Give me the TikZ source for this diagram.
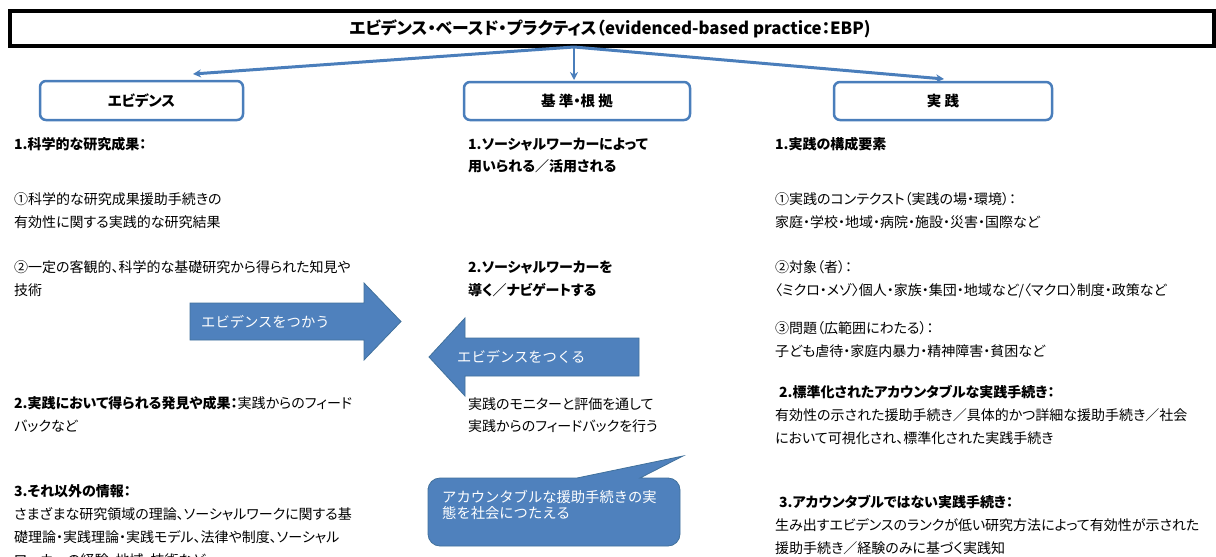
\documentclass[tikz,border=0pt]{standalone}
\usepackage{fontspec}
\setmainfont{Noto Sans CJK JP}[RawFeature=+palt]
\newfontfamily\plainjp{Noto Sans CJK JP}
\usetikzlibrary{arrows.meta}
\definecolor{lineblue}{HTML}{4A7EBB}
\definecolor{fillblue}{HTML}{4F81BD}
\definecolor{edgeblue}{HTML}{41719C}
\tikzset{
  txt/.style={anchor=base west, inner sep=0pt, font=\fontsize{14}{18}\selectfont},
  hd/.style={txt, font=\fontsize{14}{18}\selectfont\bfseries},
  wtxt/.style={anchor=base west, inner sep=0pt, text=white, font=\fontsize{14.3}{18}\selectfont\plainjp},
  catbox/.style={draw=lineblue, line width=2.5pt, rounded corners=6pt, fill=white},
  conn/.style={draw=lineblue, line width=3pt, -{Stealth[length=8pt,width=8pt]}},
  blockarrow/.style={fill=fillblue, draw=edgeblue, line width=0.8pt}
}
\begin{document}
\begin{tikzpicture}[x=1pt,y=-1pt]
\clip (0,0) rectangle (1216,557);
\fill[white] (0,0) rectangle (1216,557);

% title
\draw[line width=4pt] (10,11) rectangle (1213.5,46);
\node[inner sep=0pt, font=\fontsize{16.8}{20}\selectfont\bfseries] (title) at (610,28.5) {エビデンス・ベースド・プラクティス（evidenced-based practice：EBP)};
\coordinate (src) at (574,47);

% category boxes
\draw[catbox] (40,81) rectangle (243,120);
\node[inner sep=0pt, font=\fontsize{14.5}{18}\selectfont\bfseries] (evi) at (141.5,100.5) {エビデンス};
\draw[catbox] (464,82) rectangle (690,120);
\node[inner sep=0pt, font=\fontsize{14.5}{18}\selectfont\bfseries] (kij) at (577,101) {基 準・根 拠};
\draw[catbox] (834,82) rectangle (1052,120);
\node[inner sep=0pt, font=\fontsize{14.5}{18}\selectfont\bfseries] (jis) at (943,101) {実 践};
\coordinate (evitop) at (193,74);
\coordinate (kijtop) at (574,80);
\coordinate (jistop) at (944,79);

% connectors
\draw[conn] (src) -- (evitop);
\draw[conn, line width=2pt] (src) -- (kijtop);
\draw[conn] (src) -- (jistop);

% left column
\node[hd] (l1) at (14,149) {1.科学的な研究成果：};
\node[txt] (l2) at (14,204) {①科学的な研究成果援助手続きの};
\node[txt] (l3) at (14,227) {有効性に関する実践的な研究結果};
\node[txt] (l4) at (14,272) {②一定の客観的、科学的な基礎研究から得られた知見や};
\node[txt] (l5) at (14,295) {技術};
\node[txt] (l6) at (14,408) {\bfseries 2.実践において得られる発見や成果：\mdseries 実践からのフィード};
\node[txt] (l7) at (14,431) {バックなど};
\node[hd] (l8) at (14,496) {3.それ以外の情報：};
\node[txt] (l9) at (14,519) {さまざまな研究領域の理論、ソーシャルワークに関する基};
\node[txt] (l10) at (14,542) {礎理論・実践理論・実践モデル、法律や制度、ソーシャル};
\node[txt] (l11) at (14,565) {ワーカーの経験・地域・技術など};

% middle column
\node[hd] (m1) at (468,149) {1.ソーシャルワーカーによって};
\node[hd] (m2) at (468,171) {用いられる／活用される};
\node[hd] (m3) at (468,272) {2.ソーシャルワーカーを};
\node[hd] (m4) at (468,295) {導く／ナビゲートする};
\node[txt] (m5) at (468,409) {実践のモニターと評価を通して};
\node[txt] (m6) at (468,431) {実践からのフィードバックを行う};

% right column
\node[hd] (r1) at (775,149) {1.実践の構成要素};
\node[txt] (r2) at (775,204) {①実践のコンテクスト（実践の場・環境）：};
\node[txt] (r3) at (775,227) {家庭・学校・地域・病院・施設・災害・国際など};
\node[txt] (r4) at (775,272) {②対象（者）：};
\node[txt] (r5) at (775,295) {〈ミクロ・メゾ〉個人・家族・集団・地域など/〈マクロ〉制度・政策など};
\node[txt] (r6) at (775,333) {③問題（広範囲にわたる）：};
\node[txt] (r7) at (775,356) {子ども虐待・家庭内暴力・精神障害・貧困など};
\node[hd] (r8) at (779,397) {2.標準化されたアカウンタブルな実践手続き：};
\node[txt] (r9) at (775,420) {有効性の示された援助手続き／具体的かつ詳細な援助手続き／社会};
\node[txt] (r10) at (775,443) {において可視化され、標準化された実践手続き};
\node[hd] (r11) at (779,507) {3.アカウンタブルではない実践手続き：};
\node[txt] (r12) at (775,530) {生み出すエビデンスのランクが低い研究方法によって有効性が示された};
\node[txt] (r13) at (775,553) {援助手続き／経験のみに基づく実践知};

% block arrows
\draw[blockarrow] (190,303) -- (364,303) -- (364,283) -- (401,321.5) -- (364,360) -- (364,340) -- (190,340) -- cycle;
\node[wtxt] (use) at (201,327) {エビデンスをつかう};
\draw[blockarrow] (429,357) -- (465,318) -- (465,338) -- (639,338) -- (639,376) -- (465,376) -- (465,396) -- cycle;
\node[wtxt] (make) at (457,362) {エビデンスをつくる};

% callout
\draw[blockarrow] (428,488) [rounded corners=12pt] -- (428,478) [sharp corners] -- (577,478) -- (683,456) -- (640,478) [rounded corners=12pt] -- (680,478) -- (680,546) -- (428,546) -- (428,488);
\node[wtxt] (c1) at (442,502) {アカウンタブルな援助手続きの実};
\node[wtxt] (c2) at (442,518.5) {態を社会につたえる};
\end{tikzpicture}
\end{document}
